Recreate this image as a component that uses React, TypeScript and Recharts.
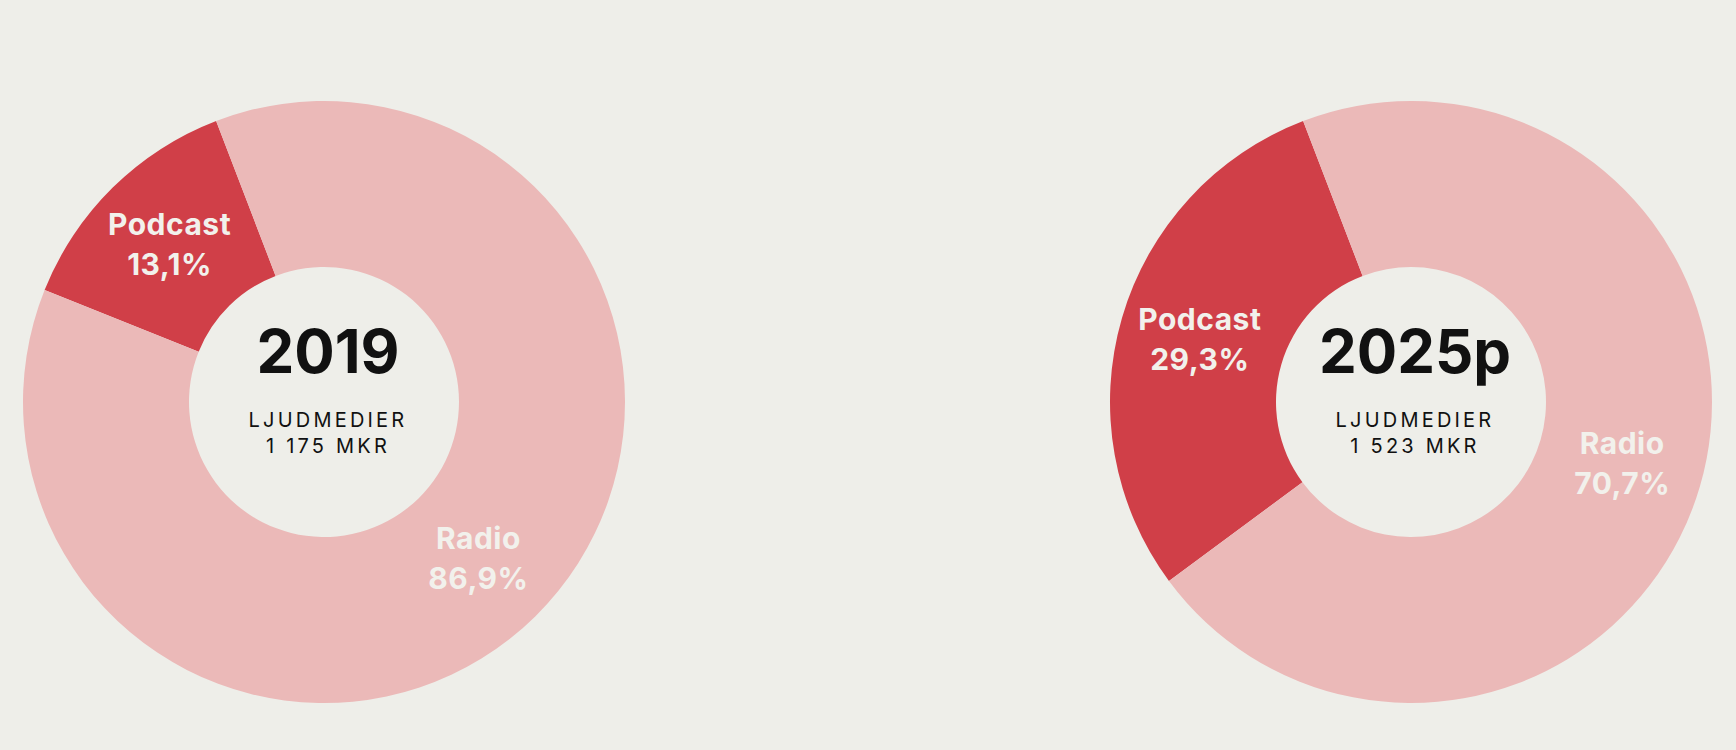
import React from 'react';
import { PieChart, Pie, Cell } from 'recharts';

// shares per segment, in percent
const segments = ['Podcast', 'Radio'];
const share2019 = [13.1, 86.9];
const share2025 = [29.3, 70.7];
const years = ['2019', '2025p'];
const totals = ['1 175 MKR', '1 523 MKR'];
const caption = 'LJUDMEDIER';

const colors = ['#D03F48', '#EBB9B8'];
const bg = '#EEEEE9';
const labelColor = '#F2F1EC';
const RAD = Math.PI / 180;

const toRows = (values: number[]) => segments.map((name, i) => ({ name, value: values[i] }));

const fmt = (v: number) => v.toFixed(1).replace('.', ',') + '%';

const renderLabel = (props: any) => {
  const { cx, cy, midAngle, innerRadius, outerRadius, name, value } = props;
  const r = (innerRadius + outerRadius) / 2 + 2;
  const x = cx + r * Math.cos(-midAngle * RAD);
  const y = cy + r * Math.sin(-midAngle * RAD);
  return (
    <text
      x={x}
      y={y}
      textAnchor="middle"
      fill={labelColor}
      letterSpacing={0.5}
      style={{ fontFamily: 'Inter, sans-serif', fontWeight: 700, fontSize: 30 }}
    >
      <tspan x={x} y={y - 10}>{name}</tspan>
      <tspan x={x} y={y + 30}>{fmt(value)}</tspan>
    </text>
  );
};

const charts = [
  { cx: 324, values: share2019 },
  { cx: 1411, values: share2025 },
];

const App: React.FC = () => {
  const cy = 402;
  return (
    <div style={{ position: 'absolute', left: 0, top: 0, width: 1736, height: 750, background: bg }}>
      <PieChart width={1736} height={750} margin={{ top: 0, right: 0, bottom: 0, left: 0 }}>
        {charts.map((c, k) => (
          <Pie
            key={years[k]}
            data={toRows(c.values)}
            dataKey="value"
            nameKey="name"
            cx={c.cx}
            cy={cy}
            innerRadius={135}
            outerRadius={301}
            startAngle={111}
            endAngle={471}
            stroke="none"
            label={renderLabel}
            labelLine={false}
            isAnimationActive={false}
          >
            {segments.map((s, i) => (
              <Cell key={s} fill={colors[i]} />
            ))}
          </Pie>
        ))}
        {charts.map((c, k) => (
          <g key={'center' + k} style={{ fontFamily: 'Inter, sans-serif' }}>
            <text x={c.cx + 4} y={373} textAnchor="middle" fill="#111" fontSize={60} fontWeight={700}>
              {years[k]}
            </text>
            <text x={c.cx + 4} y={427} textAnchor="middle" fill="#111" fontSize={20} letterSpacing={3.2}>
              {caption}
            </text>
            <text x={c.cx + 4} y={453} textAnchor="middle" fill="#111" fontSize={20} letterSpacing={3.2}>
              {totals[k]}
            </text>
          </g>
        ))}
      </PieChart>
    </div>
  );
};

export default App;
